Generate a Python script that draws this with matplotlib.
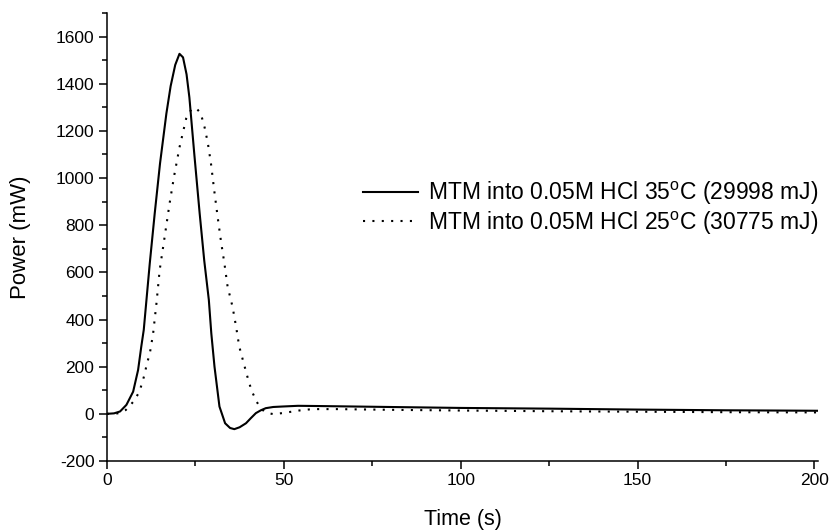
import matplotlib
matplotlib.use('Agg')
import matplotlib.pyplot as plt

plt.rcParams['font.family'] = ['Liberation Sans', 'DejaVu Sans']
plt.rcParams['mathtext.fontset'] = 'custom'
plt.rcParams['mathtext.rm'] = 'Liberation Sans'
plt.rcParams['axes.unicode_minus'] = False

# 35 C run (solid)
t_35 = [0, 2, 3.7, 5.5, 7.4, 8.8, 9.7, 10.4, 12.1, 13.5, 15, 16.8, 18, 19.3,
        20.5, 21.5, 22.5, 23.3, 24.7, 26.2, 27.5, 28.8, 29.5, 30.4, 31.8,
        33.4, 34.8, 36, 37.5, 39.3, 40.7, 42.1, 43.5, 44.9, 47, 49.6, 54, 60,
        80, 100, 125, 150, 175, 189, 201]
p_35 = [0, 2, 10, 38, 94, 186, 285, 356, 638, 850, 1062, 1274, 1390, 1480,
        1527, 1512, 1440, 1342, 1100, 851, 650, 483, 341, 200, 31,
        -40, -60, -65, -57, -40, -18, 3, 15, 24, 29, 31, 34, 33,
        29, 25, 22, 18, 15, 14, 13]

# 25 C run (dotted)
t_25 = [0, 2.3, 4, 5.3, 6.5, 7.7, 9.1, 10, 10.7, 11.3, 12.1, 12.5, 13, 14,
        14.9, 16.3, 17.7, 19, 20.5, 22.4, 23.8, 25.2, 26.5, 27.6, 28.5, 29.4,
        30.3, 31.3, 32.2, 33.2, 34.1, 35.5, 36.5, 37.4, 38.8, 40.2, 41.2,
        42.3, 43.4, 44.5, 45.8, 47, 49.6, 54.3, 58, 65, 80, 100, 125, 150,
        175, 201]
p_25 = [0, 0, 5, 16, 35, 56, 92, 133, 172, 214, 254, 292, 334, 470,
        610, 750, 892, 1010, 1130, 1253, 1290, 1297, 1275, 1215, 1150, 1062,
        950, 834, 735, 638, 540, 454, 370, 285, 207, 130, 88,
        52, 25, 10, 2, -1, 3, 14, 20, 20, 17, 14, 11, 9,
        7, 6]

label_35 = 'MTM into 0.05M HCl 35$^{\\mathrm{o}}$C (29998 mJ)'
label_25 = 'MTM into 0.05M HCl 25$^{\\mathrm{o}}$C (30775 mJ)'

fig = plt.figure(figsize=(8.35, 5.32), dpi=100)
ax = fig.add_axes([0.1281, 0.1335, 0.8515, 0.842])

ax.plot(t_35, p_35, color='black', lw=1.5, label=label_35)
ax.plot(t_25, p_25, color='black', lw=1.5, linestyle=(0, (1, 3.5)), label=label_25)

ax.set_xlim(0, 201)
ax.set_ylim(-200, 1700)
ax.set_xticks([0, 50, 100, 150, 200])
ax.set_xticks([25, 75, 125, 175], minor=True)
ax.set_yticks(range(-200, 1601, 200))
ax.set_yticks(range(-100, 1701, 200), minor=True)

for s in ['top', 'right']:
    ax.spines[s].set_visible(False)
for s in ['left', 'bottom']:
    ax.spines[s].set_linewidth(1.1)

ax.tick_params(which='major', direction='out', length=6, width=1.1, labelsize=12.5, pad=3)
ax.tick_params(which='minor', direction='out', length=3.8, width=1.1)

ax.set_xlabel('Time (s)', fontsize=15.5, labelpad=15)
ax.set_ylabel('Power (mW)', fontsize=16, labelpad=18)

ax.legend(loc='upper left', bbox_to_anchor=(0.4347, 0.662), bbox_transform=fig.transFigure,
          frameon=False, fontsize=16.5, handlelength=2.4, handletextpad=0.45,
          labelspacing=0.1, borderpad=0, borderaxespad=0)

fig.savefig('out.png', dpi=100)
